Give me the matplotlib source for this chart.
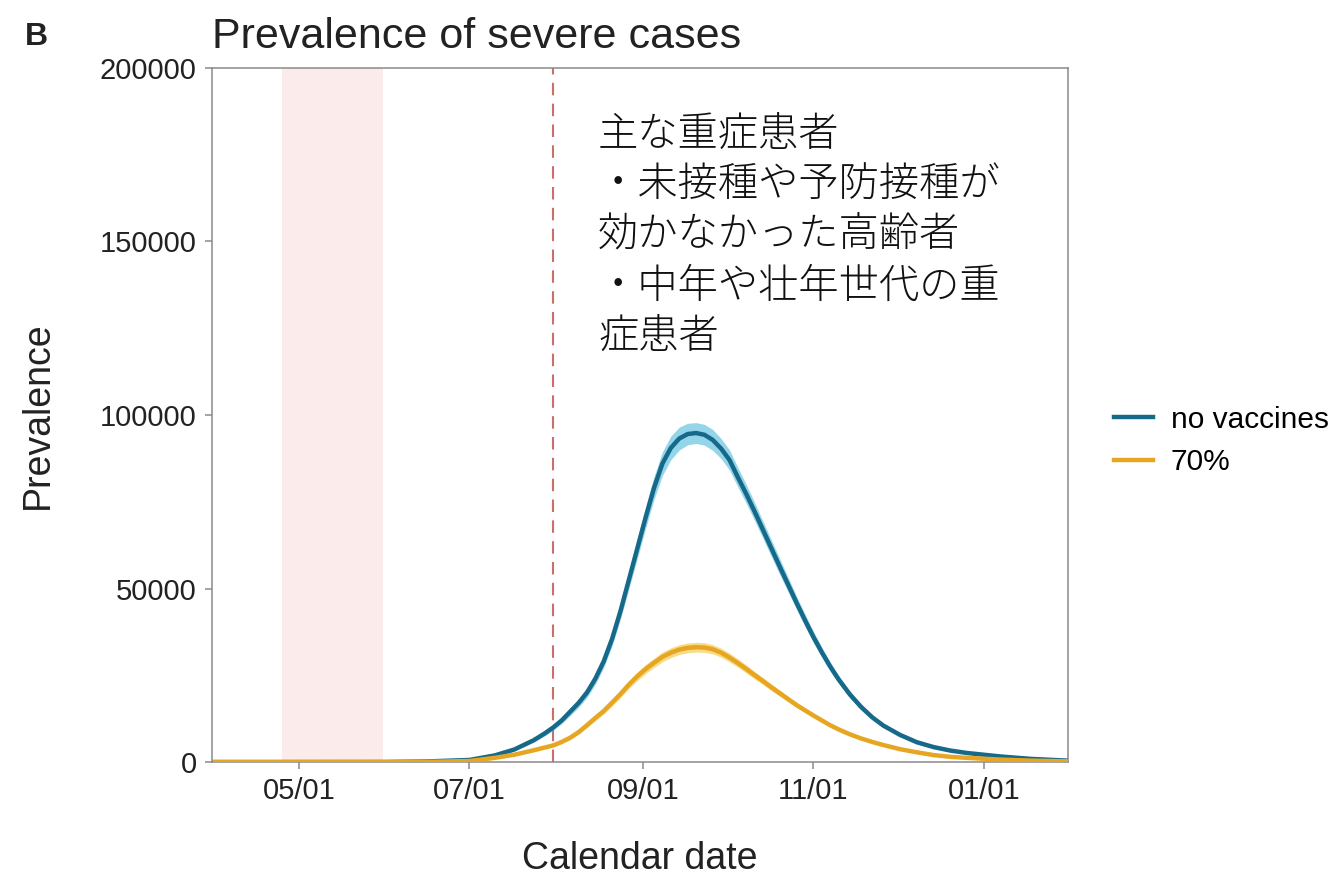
import matplotlib
matplotlib.use("Agg")
import matplotlib.pyplot as plt
import matplotlib.dates as mdates
import numpy as np
import pandas as pd

# prevalence of severe cases, two scenarios
dates = ["2021-04-01", "2021-05-01", "2021-06-01", "2021-06-15", "2021-07-01",
         "2021-07-10", "2021-07-17", "2021-07-24", "2021-07-28", "2021-07-31",
         "2021-08-03", "2021-08-06", "2021-08-09", "2021-08-12", "2021-08-15",
         "2021-08-18", "2021-08-21", "2021-08-24", "2021-08-27", "2021-08-30",
         "2021-09-02", "2021-09-05", "2021-09-08", "2021-09-11", "2021-09-14",
         "2021-09-17", "2021-09-20", "2021-09-23", "2021-09-26", "2021-09-29",
         "2021-10-02", "2021-10-05", "2021-10-08", "2021-10-11", "2021-10-14",
         "2021-10-17", "2021-10-20", "2021-10-23", "2021-10-26", "2021-10-29",
         "2021-11-01", "2021-11-04", "2021-11-07", "2021-11-10", "2021-11-14",
         "2021-11-18", "2021-11-22", "2021-11-26", "2021-12-02", "2021-12-08",
         "2021-12-14", "2021-12-20", "2021-12-26", "2022-01-07", "2022-01-18",
         "2022-01-31"]

no_vax = [0, 0, 20, 150, 600, 1900, 3600, 6300, 8300, 10000,
          12000, 14500, 17000, 20000, 24000, 29000, 35500, 43500, 52500, 61500,
          70500, 79000, 86000, 90500, 93200, 94500, 94800, 94300, 92800, 90300,
          87000, 82000, 77200, 72100, 66800, 61500, 56200, 51000, 45800, 40800,
          36000, 31600, 27500, 23800, 19500, 15900, 12900, 10500, 7800, 5700,
          4300, 3300, 2600, 1600, 900, 400]
# half width of the uncertainty band
no_vax_spread = [0, 0, 5, 30, 80, 200, 350, 550, 700, 800,
                 950, 1100, 1250, 1400, 1600, 1800, 2000, 2300, 2600, 2900,
                 3100, 3300, 3400, 3400, 3300, 3100, 3000, 3000, 3000, 2900,
                 2900, 2800, 2700, 2600, 2500, 2400, 2300, 2100, 1900, 1750,
                 1600, 1450, 1300, 1150, 1000, 850, 700, 580, 450, 340,
                 260, 200, 160, 100, 60, 30]

vax70 = [0, 0, 10, 50, 300, 1200, 2100, 3400, 4200, 4800,
         5800, 7000, 8600, 10600, 12700, 14700, 17100, 19600, 22300, 24700,
         26800, 28600, 30300, 31500, 32400, 32900, 33100, 33000, 32500, 31500,
         30100, 28500, 26800, 25000, 23300, 21500, 19800, 18100, 16400, 14900,
         13400, 12000, 10600, 9400, 8000, 6800, 5800, 4900, 3700, 2800,
         2000, 1500, 1200, 700, 400, 200]
vax70_spread = [0, 0, 2, 8, 40, 120, 200, 280, 330, 370,
                430, 500, 580, 680, 780, 870, 960, 1050, 1150, 1230,
                1300, 1350, 1400, 1400, 1400, 1400, 1400, 1400, 1350, 1300,
                1250, 1200, 1150, 1100, 1000, 950, 880, 800, 730, 660,
                600, 540, 480, 420, 360, 310, 260, 220, 170, 130,
                95, 70, 55, 30, 18, 9]

series_labels = ["no vaccines", "70%"]
restriction = ("2021-04-25", "2021-05-31")
cutoff_date = "2021-07-31"

note = ("主な重症患者\n・未接種や予防接種が\n効かなかった高齢者\n"
        "・中年や壮年世代の重\n症患者")

plt.rcParams["font.family"] = ["Liberation Sans", "Noto Sans CJK JP"]

x = pd.to_datetime(dates)
nv = np.array(no_vax)
nv_s = np.array(no_vax_spread)
v70 = np.array(vax70)
v70_s = np.array(vax70_spread)

fig = plt.figure(figsize=(13.34, 8.82), dpi=100)
ax = fig.add_axes([0.159, 0.136, 0.6416, 0.787])

ax.axvspan(pd.Timestamp(restriction[0]), pd.Timestamp(restriction[1]),
           color="#fbe6e6", alpha=0.8, lw=0, zorder=0)
ax.axvline(pd.Timestamp(cutoff_date), color="#c9706c", lw=1.5,
           dashes=(6, 4), zorder=1)

ax.fill_between(x, nv - nv_s, nv + nv_s, color="#3db3d8", alpha=0.55, lw=0, zorder=2)
ax.fill_between(x, v70 - v70_s, v70 + v70_s, color="#f6c437", alpha=0.6, lw=0, zorder=2)
ax.plot(x, nv, color="#17698a", lw=3.2, label=series_labels[0], zorder=3,
        solid_joinstyle="round")
ax.plot(x, v70, color="#e6a622", lw=3.2, label=series_labels[1], zorder=3,
        solid_joinstyle="round")

ax.set_xlim(pd.Timestamp("2021-03-31"), pd.Timestamp("2022-01-31"))
ax.set_ylim(0, 200000)
ax.set_yticks([0, 50000, 100000, 150000, 200000])
ax.xaxis.set_major_locator(mdates.MonthLocator(bymonth=[1, 3, 5, 7, 9, 11]))
ax.xaxis.set_major_formatter(mdates.DateFormatter("%m/%d"))

for s in ax.spines.values():
    s.set_color("#8a8a8a")
    s.set_linewidth(1.1)
ax.tick_params(labelsize=21, color="#8a8a8a", length=5, width=1.1, pad=6,
               labelcolor="#222222")

ax.set_xlabel("Calendar date", fontsize=27, labelpad=26, color="#222222")
ax.set_ylabel("Prevalence", fontsize=27, labelpad=32, color="#222222")
ax.set_title("Prevalence of severe cases", loc="left", fontsize=31,
             pad=14, color="#222222")
fig.text(0.019, 1 - 45 / 882, "B", fontsize=23, fontweight="bold",
         va="baseline", color="#222222")

ax.text(0.451, 0.934, note, transform=ax.transAxes, va="top", ha="left",
        fontsize=29, linespacing=1.27, family=["Noto Sans CJK JP"],
        fontweight="light", color="#111111")

fig.legend(loc="center left", bbox_to_anchor=(1102 / 1334, 1 - 441 / 882),
           frameon=False, fontsize=21.5, handlelength=1.3, handletextpad=0.6,
           labelspacing=0.5, borderaxespad=0)

fig.savefig("out.png", dpi=100)
